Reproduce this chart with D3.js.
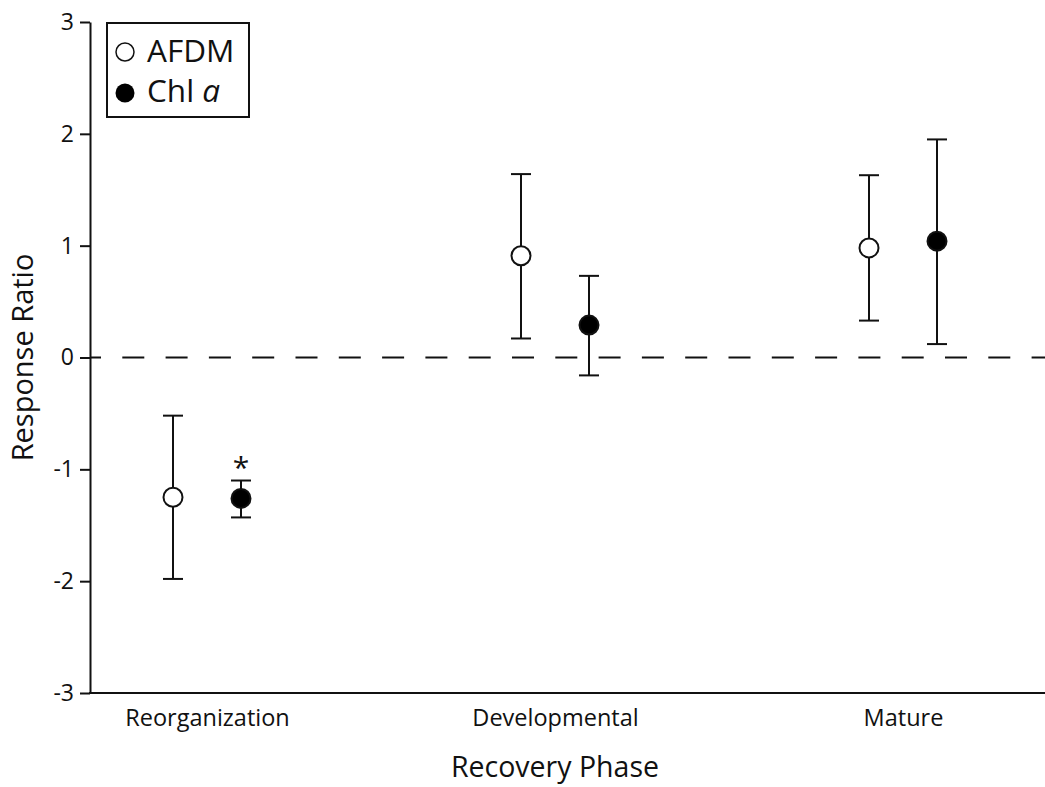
<!DOCTYPE html>
<html>
<head>
<meta charset="utf-8">
<script src="https://cdn.jsdelivr.net/npm/d3@7"></script>
<style>
  body { margin: 0; background: #fff; }
  svg { display: block; }
  svg text { font-family: "Open Sans", "Noto Sans", sans-serif; fill: #111; }
  .axis path, .axis line { stroke: #111; stroke-width: 2; }
</style>
</head>
<body>
<svg id="chart" width="1045" height="787"></svg>
<script>
// recovery phases along the x axis
const phases = ['Reorganization', 'Developmental', 'Mature'];
const yTicks = [-3, -2, -1, 0, 1, 2, 3];

// response ratio, mean with lower / upper error bounds
const afdmMean = [-1.25, 0.91, 0.98];
const afdmLow  = [-1.98, 0.17, 0.33];
const afdmHigh = [-0.52, 1.64, 1.63];

const chlMean = [-1.26, 0.29, 1.04];
const chlLow  = [-1.43, -0.16, 0.12];
const chlHigh = [-1.10, 0.73, 1.95];

// significance markers (one per phase)
const chlSignif = [true, false, false];

const svg = d3.select('#chart');
const W = 1045, H = 787;
const axisX = 90;

const x = d3.scalePoint().domain(phases).range([207, 903]);
const y = d3.scaleLinear().domain([-3, 3]).range([693, 22]);
const off = 34;

// zero reference line
svg.append('line')
  .attr('x1', axisX).attr('x2', W)
  .attr('y1', y(0)).attr('y2', y(0))
  .attr('stroke', '#111').attr('stroke-width', 2)
  .attr('stroke-dasharray', '22,21.3').attr('stroke-dashoffset', 11);

// y axis
const yAxis = svg.append('g').attr('class', 'axis')
  .attr('transform', `translate(${axisX},0)`)
  .call(d3.axisLeft(y).tickValues(yTicks).tickSize(10).tickPadding(6).tickSizeOuter(0)
    .tickFormat(d => d < 0 ? '-' + (-d) : String(d)));
yAxis.attr('font-family', null);
yAxis.selectAll('text').style('font-size', '23px');

// x axis
const xAxis = svg.append('g').attr('class', 'axis')
  .attr('transform', `translate(0,${y(-3)})`)
  .call(d3.axisBottom(x).tickSize(0).tickPadding(16));
xAxis.attr('font-family', null);
xAxis.select('.domain').remove();
xAxis.selectAll('text').style('font-size', '23.5px').attr('dy', '0.71em');
svg.append('line')
  .attr('x1', axisX - 1).attr('x2', W)
  .attr('y1', y(-3)).attr('y2', y(-3))
  .attr('stroke', '#111').attr('stroke-width', 2);

// axis titles
svg.append('text')
  .attr('x', x('Developmental')).attr('y', 777)
  .attr('text-anchor', 'middle').style('font-size', '28.5px')
  .text('Recovery Phase');
svg.append('text')
  .attr('transform', `translate(33,${y(0)}) rotate(-90)`)
  .attr('text-anchor', 'middle').style('font-size', '29px')
  .text('Response Ratio');

function drawSeries(mean, low, high, dx, filled) {
  const g = svg.append('g');
  const d = phases.map((p, i) => ({p, m: mean[i], lo: low[i], hi: high[i]}));
  g.selectAll('.bar').data(d).enter().append('line')
    .attr('x1', e => x(e.p) + dx).attr('x2', e => x(e.p) + dx)
    .attr('y1', e => y(e.lo)).attr('y2', e => y(e.hi))
    .attr('stroke', '#111').attr('stroke-width', 2);
  ['lo', 'hi'].forEach(k => {
    g.selectAll('.cap-' + k).data(d).enter().append('line')
      .attr('x1', e => x(e.p) + dx - 10).attr('x2', e => x(e.p) + dx + 10)
      .attr('y1', e => y(e[k])).attr('y2', e => y(e[k]))
      .attr('stroke', '#111').attr('stroke-width', 2);
  });
  g.selectAll('circle').data(d).enter().append('circle')
    .attr('cx', e => x(e.p) + dx).attr('cy', e => y(e.m))
    .attr('r', 9.5)
    .attr('fill', filled ? '#000' : '#fff')
    .attr('stroke', '#111').attr('stroke-width', 2);
}
drawSeries(afdmMean, afdmLow, afdmHigh, -off, false);
drawSeries(chlMean, chlLow, chlHigh, off, true);

// asterisks
svg.selectAll('.star').data(phases.filter((p, i) => chlSignif[i])).enter().append('text')
  .attr('x', p => x(p) + off)
  .attr('y', p => y(chlHigh[phases.indexOf(p)]) - 3)
  .attr('text-anchor', 'middle').style('font-size', '30px')
  .text('*');

// legend
const lg = svg.append('g');
lg.append('rect').attr('x', 107).attr('y', 23).attr('width', 142).attr('height', 94)
  .attr('fill', '#fff').attr('stroke', '#111').attr('stroke-width', 2);
lg.append('circle').attr('cx', 125).attr('cy', 52).attr('r', 9)
  .attr('fill', '#fff').attr('stroke', '#111').attr('stroke-width', 1.5);
lg.append('circle').attr('cx', 125).attr('cy', 93).attr('r', 9.5).attr('fill', '#000');
lg.append('text').attr('x', 147).attr('y', 62).style('font-size', '31.5px')
  .text('AFDM');
const t2 = lg.append('text').attr('x', 147).attr('y', 102).style('font-size', '31.5px');
t2.append('tspan').text('Chl ');
t2.append('tspan').style('font-style', 'italic').text('a');
</script>
</body>
</html>
